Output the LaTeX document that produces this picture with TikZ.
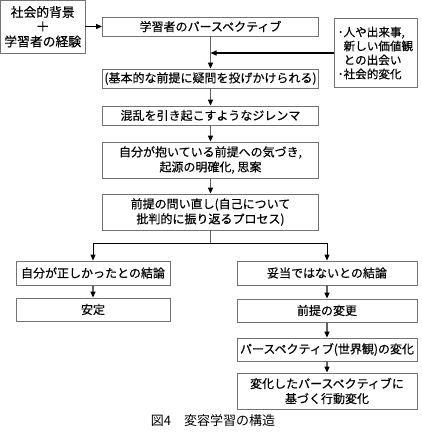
\documentclass[tikz,border=0pt]{standalone}
\usepackage{fontspec}
\setmainfont{Noto Sans CJK JP}
\newfontfamily\medfont{Noto Sans CJK JP}[FakeBold=0.35]
\newfontfamily\capfont{Noto Sans CJK JP}
\usetikzlibrary{arrows.meta}
\begin{document}
\begin{tikzpicture}[x=1pt,y=-1pt,
  box/.style={draw=black!55, line width=0.8pt, inner sep=0pt, align=center,
    font=\medfont\fontsize{12}{15}\selectfont},
  arr/.style={draw=black!62, line width=1.3pt, -{Triangle[length=6pt,width=5pt,color=black]}},
  blk/.style={draw=black, line width=1pt},
  blkarr/.style={draw=black, line width=1.4pt, -{Triangle[length=6pt,width=5pt,color=black]}},
  thinarr/.style={draw=black, line width=1pt, -{Triangle[length=6pt,width=5pt,color=black]}}
]
\useasboundingbox (0,0) rectangle (422,432);
\fill[white] (0,0) rectangle (422,432);

% boxes
\node[box, minimum width=84.5pt, minimum height=52.5pt, font=\medfont\fontsize{12.8}{14.7}\selectfont]
  (src) at (42.75,26.75) {社会的背景\\{\fontsize{14}{14.7}\selectfont ＋}\\学習者の経験};
\node[box, minimum width=216pt, minimum height=19pt] (persp) at (210.5,26.5) {学習者のパースペクティブ};
\node[box, minimum width=83pt, minimum height=69pt, align=left, inner xsep=2pt,
  font=\medfont\fontsize{11.6}{14}\selectfont]
  (note) at (375.5,53) {･人や出来事,\\\hspace*{0.5em}新しい価値観\\\hspace*{0.5em}との出会い\\･社会的変化};
\node[box, minimum width=216pt, minimum height=19pt] (q) at (210.5,78.5) {(基本的な前提に疑問を投げかけられる)};
\node[box, minimum width=216pt, minimum height=19pt] (dil) at (210.5,115.5) {混乱を引き起こすようなジレンマ};
\node[box, minimum width=216pt, minimum height=36pt] (aware) at (210.5,160) {自分が抱いている前提への気づき,\\起源の明確化, 思案};
\node[box, minimum width=216pt, minimum height=36pt] (refl) at (210.5,212) {前提の問い直し(自己について\\批判的に振り返るプロセス)};

\node[box, minimum width=154pt, minimum height=24pt] (l1) at (93,273) {自分が正しかったとの結論};
\node[box, minimum width=154pt, minimum height=23pt] (l2) at (93,309.5) {安定};

\node[box, minimum width=180pt, minimum height=24pt] (r1) at (327,273) {妥当ではないとの結論};
\node[box, minimum width=180pt, minimum height=23pt] (r2) at (327,310.5) {前提の変更};
\node[box, minimum width=180pt, minimum height=23pt] (r3) at (327,349.5) {パースペクティブ(世界観)の変化};
\node[box, minimum width=180pt, minimum height=36pt] (r4) at (327,391) {変化したパースペクティブに\\基づく行動変化};

\node[inner sep=0pt, font=\capfont\fontsize{13}{14}\selectfont] (cap) at (213,421) {図4　変容学習の構造};

% connectors
\coordinate (j1) at (210.5,53);
\coordinate (br) at (210.5,243);
\coordinate (bl) at (93,243);
\coordinate (brr) at (327,243);

\draw[thinarr] (src.east |- persp.west) -- (persp.west);
\draw[arr] (persp) -- (q);
\draw[blkarr] (note.west) -- (j1);
\draw[arr] (q) -- (dil);
\draw[arr] (dil) -- (aware);
\draw[arr] (aware) -- (refl);
\draw[draw=black!62, line width=1.3pt] (refl.south) -- (br);
\draw[blk] (bl) -- (brr);
\draw[thinarr] (bl) -- (l1.north);
\draw[thinarr] (brr) -- (r1.north);
\draw[arr] (l1) -- (l2);
\draw[arr] (r1) -- (r2);
\draw[arr] (r2) -- (r3);
\draw[arr] (r3) -- (r4);
\end{tikzpicture}
\end{document}
